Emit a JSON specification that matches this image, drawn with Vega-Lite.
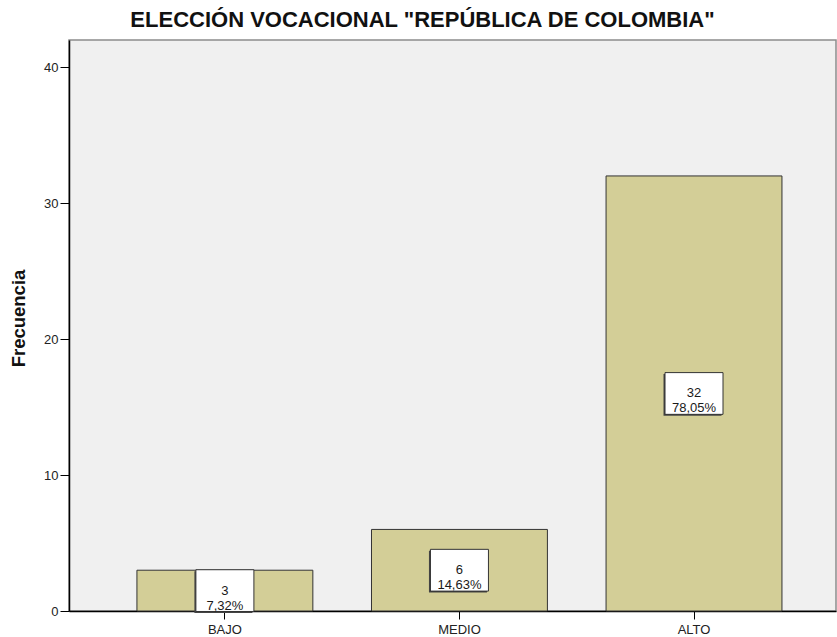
{
  "$schema": "https://vega.github.io/schema/vega-lite/v6.json",
  "width": 767,
  "height": 571,
  "autosize": {"type": "none"},
  "padding": {"left": 69, "top": 40, "right": 1, "bottom": 26},
  "background": "white",
  "config": {
    "font": "Liberation Sans",
    "view": {"fill": "#f0f0f0", "stroke": "#8c8c8c", "strokeWidth": 1.5}
  },
  "title": {
    "text": "ELECCIÓN VOCACIONAL \"REPÚBLICA DE COLOMBIA\"",
    "font": "Liberation Sans",
    "fontSize": 22,
    "fontWeight": "bold",
    "color": "#111111",
    "anchor": "middle",
    "frame": "group",
    "dx": -30,
    "dy": 19,
    "offset": 10,
    "baseline": "alphabetic"
  },
  "data": {
    "values": [
      {"nivel": "BAJO", "n": 3, "label": "3\n7,32%"},
      {"nivel": "MEDIO", "n": 6, "label": "6\n14,63%"},
      {"nivel": "ALTO", "n": 32, "label": "32\n78,05%"}
    ]
  },
  "transform": [{"calculate": "datum.n / 2", "as": "mid"}],
  "encoding": {
    "x": {
      "field": "nivel",
      "type": "nominal",
      "sort": ["BAJO", "MEDIO", "ALTO"],
      "scale": {"paddingInner": 0.25, "paddingOuter": 0.26, "align": 0.557},
      "axis": {
        "title": null,
        "labelAngle": 0,
        "labelFontSize": 13,
        "labelColor": "#222222",
        "labelPadding": 4,
        "tickSize": 8,
        "tickColor": "#000000",
        "domainColor": "#000000",
        "domainWidth": 1.5
      }
    }
  },
  "layer": [
    {
      "mark": {"type": "bar", "fill": "#d3ce97", "stroke": "#333333", "strokeWidth": 1},
      "encoding": {
        "y": {
          "field": "n",
          "type": "quantitative",
          "scale": {"domain": [0, 42], "nice": false},
          "axis": {
            "values": [0, 10, 20, 30, 40],
            "grid": false,
            "title": "Frecuencia",
            "titleFontSize": 18.5,
            "titleFontWeight": "bold",
            "titleColor": "#111111",
            "titleAngle": -90,
            "titleAlign": "center",
            "titleBaseline": "middle",
            "titleX": -51,
            "titleY": 278,
            "labelFontSize": 13,
            "labelColor": "#222222",
            "labelPadding": 2,
            "tickSize": 9,
            "tickColor": "#000000",
            "domainColor": "#000000",
            "domainWidth": 1.5
          }
        }
      }
    },
    {
      "mark": {
        "type": "point",
        "shape": "M-1,-0.72L1,-0.72L1,0.72L-1,0.72Z",
        "size": 3364,
        "filled": true,
        "fill": "#444444",
        "strokeWidth": 0,
        "opacity": 1,
        "xOffset": -1.5,
        "yOffset": 1.5
      },
      "encoding": {"y": {"field": "mid", "type": "quantitative"}}
    },
    {
      "mark": {
        "type": "point",
        "shape": "M-1,-0.72L1,-0.72L1,0.72L-1,0.72Z",
        "size": 3364,
        "filled": true,
        "fill": "white",
        "stroke": "#333333",
        "strokeWidth": 1,
        "opacity": 1
      },
      "encoding": {"y": {"field": "mid", "type": "quantitative"}}
    },
    {
      "mark": {
        "type": "text",
        "lineBreak": "\n",
        "fontSize": 13,
        "lineHeight": 15,
        "color": "#1a1a1a",
        "align": "center",
        "baseline": "middle"
      },
      "encoding": {
        "y": {"field": "mid", "type": "quantitative"},
        "text": {"field": "label"}
      }
    }
  ]
}
